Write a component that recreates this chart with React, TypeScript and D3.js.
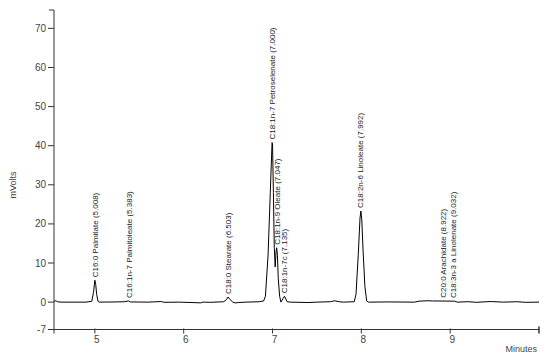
import React from "react";
import * as d3 from "d3";

// Chromatogram trace: [minutes, mVolts]
const traceTimes = [4.54, 4.56, 4.58, 4.62, 4.9, 4.965, 4.985, 5.0, 5.01, 5.02, 5.035, 5.05, 5.25, 5.33, 5.38, 5.4, 5.6, 5.75, 5.78, 5.95, 6.15, 6.19, 6.22, 6.3, 6.45, 6.48, 6.5, 6.52, 6.55, 6.58, 6.62, 6.7, 6.85, 6.9, 6.92, 6.95, 6.975, 6.995, 7.0, 7.01, 7.02, 7.03, 7.04, 7.047, 7.055, 7.065, 7.08, 7.095, 7.12, 7.135, 7.15, 7.165, 7.2, 7.4, 7.5, 7.65, 7.7, 7.75, 7.8, 7.92, 7.94, 7.965, 7.985, 7.995, 8.005, 8.02, 8.04, 8.06, 8.08, 8.3, 8.6, 8.65, 8.75, 8.8, 9.05, 9.08, 9.2, 9.3, 9.45, 9.6, 9.75, 9.85, 10.0];
const traceValues = [0.2, 0.35, 0.1, 0, 0, 0.2, 2.5, 5.6, 4.5, 2, 0.2, 0, 0.05, 0.1, 0.3, 0.05, 0, 0.15, -0.05, 0, -0.15, -0.2, 0, -0.05, 0.1, 0.6, 1.3, 0.7, 0.05, -0.2, -0.1, 0, 0.1, 0.3, 1.5, 12, 28, 40.8, 40.5, 28, 14, 9, 13, 13.9, 12, 6, 1.5, 0, 1, 1.5, 0.8, 0.1, 0, -0.1, 0, 0.1, 0.35, 0.1, 0, 0.1, 2, 12, 21.5, 23.3, 21, 13, 4, 0.3, 0, 0.05, 0, 0.25, 0.35, 0.3, 0.25, 0, 0.1, -0.05, 0.15, 0, 0.1, -0.05, 0];

// Peak annotations
const peakNames = [
  "C16:0 Palmitate (5.008)",
  "C16:1n-7 Palmitoleate (5.383)",
  "C18:0 Stearate (6.503)",
  "C18:1n-7 Petroselenate (7.000)",
  "C18:1n-9 Oleate (7.047)",
  "C18:1n-7c (7.135)",
  "C18:2n-6 Linoleate (7.992)",
  "C20:0 Arachidate (8.922)",
  "C18:3n-3 a Linolenate (9.032)",
];
const peakTimes = [5.008, 5.383, 6.503, 7.0, 7.047, 7.135, 7.992, 8.922, 9.032];
const peakHeights = [5.6, 0.3, 1.3, 40.8, 13.9, 1.5, 23.3, 0.35, 0.3];

const xTicks = [5, 6, 7, 8, 9];
const yTicks = [70, 60, 50, 40, 30, 20, 10, 0, -7];
const xDomain = [4.54, 10.0];
const yDomain = [-7, 74.7];

export default function App() {
  const W = 550, H = 359;
  const x = d3.scaleLinear().domain(xDomain).range([54, 539]);
  const y = d3.scaleLinear().domain(yDomain).range([329.5, 10]);
  const pts: [number, number][] = traceTimes.map((t, i) => [t, traceValues[i]]);
  const line = d3.line<[number, number]>().x((d) => x(d[0])).y((d) => y(d[1]));
  const font = "Arial, 'Liberation Sans', sans-serif";
  const axisColor = "#333";
  const textColor = "#444";
  const x0 = x(xDomain[0]);
  const yb = y(yDomain[0]);
  return (
    <svg width={W} height={H} style={{ position: "absolute", left: 0, top: 0, background: "#fff" }} fontFamily={font}>
      <rect x={0} y={0} width={W} height={H} fill="#fff" />
      {/* y axis */}
      <line x1={x0} x2={x0} y1={y(yDomain[1])} y2={yb} stroke={axisColor} strokeWidth={1} />
      <line x1={x0 - 5} x2={x0} y1={y(yDomain[1])} y2={y(yDomain[1])} stroke={axisColor} />
      {yTicks.map((v) => (
        <g key={"y" + v}>
          <line x1={x0 - 6} x2={x0} y1={y(v)} y2={y(v)} stroke={axisColor} />
          <text x={x0 - 8} y={y(v)} dy="0.35em" textAnchor="end" fontSize={10} fill={textColor}>
            {v}
          </text>
        </g>
      ))}
      {/* x axis */}
      <line x1={x0} x2={x(xDomain[1])} y1={yb} y2={yb} stroke={axisColor} />
      <line x1={x0} x2={x0} y1={yb} y2={yb + 4} stroke={axisColor} />
      <line x1={x(xDomain[1])} x2={x(xDomain[1])} y1={yb - 3} y2={yb + 4} stroke={axisColor} strokeWidth={1.5} />
      {xTicks.map((v) => (
        <g key={"x" + v}>
          <line x1={x(v)} x2={x(v)} y1={yb - 1} y2={yb + 4} stroke={axisColor} />
          <text x={x(v) + 2} y={yb + 13} textAnchor="middle" fontSize={10} fill={textColor}>
            {v}
          </text>
        </g>
      ))}
      <text x={537} y={352} textAnchor="end" fontSize={9} fill={textColor}>
        Minutes
      </text>
      <text transform={`translate(16,185) rotate(-90)`} textAnchor="middle" fontSize={9} fill={textColor}>
        mVolts
      </text>
      {/* trace */}
      <path d={line(pts) || ""} fill="none" stroke="#000" strokeWidth={1} />
      {/* peak labels */}
      {peakNames.map((n, i) => (
        <text
          key={n}
          transform={`translate(${x(peakTimes[i])},${y(peakHeights[i]) - 3}) rotate(-90)`}
          dy="0.35em"
          fontSize={8}
          fill="#222"
        >
          {n}
        </text>
      ))}
    </svg>
  );
}
